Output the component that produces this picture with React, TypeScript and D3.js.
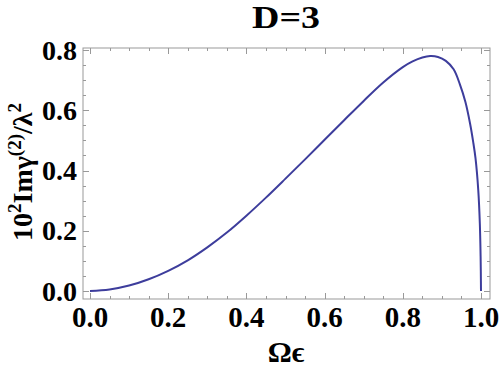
import React from "react";
import * as d3 from "d3";

const xs = [0, 0.05, 0.1, 0.15, 0.2, 0.25, 0.3, 0.35, 0.4, 0.45, 0.5, 0.55, 0.6, 0.65, 0.7, 0.75, 0.8, 0.825, 0.85, 0.87, 0.89, 0.91, 0.93, 0.946, 0.96, 0.972, 0.98, 0.986, 0.993, 0.997, 0.999, 1.0];
const ys = [0, 0.005, 0.018, 0.039, 0.067, 0.102, 0.145, 0.194, 0.25, 0.31, 0.373, 0.437, 0.502, 0.567, 0.631, 0.692, 0.743, 0.762, 0.775, 0.78, 0.777, 0.764, 0.736, 0.686, 0.628, 0.556, 0.495, 0.44, 0.335, 0.225, 0.115, 0];
const xTicks = [0, 0.2, 0.4, 0.6, 0.8, 1.0];
const yTicks = [0, 0.2, 0.4, 0.6, 0.8];
const xTickLabels = ["0.0", "0.2", "0.4", "0.6", "0.8", "1.0"];
const yTickLabels = ["0.0", "0.2", "0.4", "0.6", "0.8"];
const title = "D=3";

export default function App() {
  const W = 500, H = 367;
  const left = 83, right = 490, top = 48, bottom = 299;
  const x = d3.scaleLinear().domain([0, 1]).range([90, 481]);
  const y = d3.scaleLinear().domain([0, 0.8]).range([291, 50]);
  const minorX = d3.range(0, 1.0001, 0.05);
  const minorY = d3.range(0, 0.8001, 0.05);
  const pts: [number, number][] = xs.map((v, i) => [v, ys[i]]);
  const line = d3.line<[number, number]>().x(d => x(d[0])).y(d => y(d[1])).curve(d3.curveCatmullRom.alpha(0.5));
  const frame = "#999999";
  const font = "Liberation Serif, Times New Roman, serif";
  const isMajor = (v: number, arr: number[]) => arr.some(t => Math.abs(t - v) < 1e-6);
  return (
    <svg width={W} height={H} style={{ position: "absolute", left: 0, top: 0, background: "#fff" }}>
      <rect x={0} y={0} width={W} height={H} fill="#fff" />
      <text x={286} y={28} textAnchor="middle" fontFamily={font} fontWeight="bold" fontSize={32} textLength={68} lengthAdjust="spacingAndGlyphs">{title}</text>
      <rect x={left} y={top} width={right - left} height={bottom - top} fill="none" stroke={frame} strokeWidth={1} />
      {minorX.map((v, i) => {
        const L = isMajor(v, xTicks) ? 6 : 3;
        const px = Math.round(x(v)) + 0.5;
        return (
          <g key={"mx" + i}>
            <line x1={px} x2={px} y1={bottom} y2={bottom - L} stroke={frame} />
            <line x1={px} x2={px} y1={top} y2={top + L} stroke={frame} />
          </g>
        );
      })}
      {minorY.map((v, i) => {
        const L = isMajor(v, yTicks) ? 6 : 3;
        const py = Math.round(y(v)) + 0.5;
        return (
          <g key={"my" + i}>
            <line x1={left} x2={left + L} y1={py} y2={py} stroke={frame} />
            <line x1={right} x2={right - L} y1={py} y2={py} stroke={frame} />
          </g>
        );
      })}
      <path d={line(pts) || ""} fill="none" stroke="#3d3d9c" strokeWidth={2} />
      {xTicks.map((v, i) => (
        <text key={"xl" + i} x={x(v)} y={327} textAnchor="middle" fontFamily={font} fontWeight="bold" fontSize={29}>{xTickLabels[i]}</text>
      ))}
      {yTicks.map((v, i) => (
        <text key={"yl" + i} x={77} y={y(v) + 9.5} textAnchor="end" fontFamily={font} fontWeight="bold" fontSize={28}>{yTickLabels[i]}</text>
      ))}
      <text x={286} y={362} textAnchor="middle" fontFamily={font} fontWeight="bold" fontSize={30}>Ωϵ</text>
      <text transform="translate(32,172) rotate(-90)" textAnchor="middle" fontFamily={font} fontWeight="bold" fontSize={28}>
        <tspan>10</tspan>
        <tspan fontSize={19} dy={-11}>2</tspan>
        <tspan dy={11}>Imγ</tspan>
        <tspan fontSize={19} dy={-11}>(2)</tspan>
        <tspan dy={11}>/λ</tspan>
        <tspan fontSize={19} dy={-11}>2</tspan>
      </text>
    </svg>
  );
}
